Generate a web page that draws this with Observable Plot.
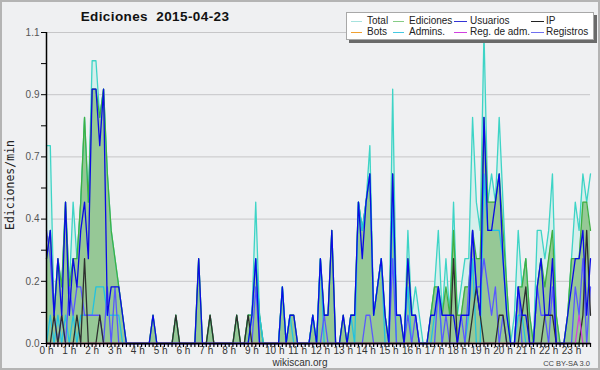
<!DOCTYPE html>
<html>
<head>
<meta charset="utf-8">
<script src="https://cdn.jsdelivr.net/npm/d3@7"></script>
<script src="https://cdn.jsdelivr.net/npm/@observablehq/plot@0.6"></script>
<style>
  html, body { margin: 0; padding: 0; background: #eff0f2; }
  #wrap { position: relative; width: 600px; height: 370px; background: #eff0f2; overflow: hidden; font-family: "Liberation Sans", Arial, sans-serif; }
  #wrap svg { position: absolute; left: 0; top: 0; }
  .abs { position: absolute; white-space: nowrap; }
  #frame { position: absolute; left: 0; top: 0; width: 596px; height: 366px; border: 2px solid #b4b4b4; pointer-events: none; }
  #title { left: 10px; width: 290px; top: 9px; text-align: center; font-weight: bold; font-size: 13.5px; color: #111; letter-spacing: 0.4px; }
  #legend { left: 346px; top: 12px; width: 246px; height: 26px; background: #fff; border: 1px solid #a8a8a8; box-shadow: 3px 3px 0 #6a6a6a; }
  .lt { position: absolute; font-size: 10px; color: #222; line-height: 11px; }
  .sw { position: absolute; height: 1px; }
  #ylab { left: -50px; top: 178px; width: 120px; text-align: center; transform: rotate(-90deg); font-family: "DejaVu Sans Mono", monospace; font-size: 11.5px; color: #222; }
  #foot { left: 250px; width: 100px; top: 357px; text-align: center; font-size: 10px; line-height: 11px; color: #333; }
  #cc { right: 10px; top: 359px; font-size: 7.5px; line-height: 9px; color: #444; }
</style>
</head>
<body>
<div id="wrap">
  <div id="chart"></div>
  <div id="title" class="abs">Ediciones&nbsp; 2015-04-23</div>
  <div id="legend" class="abs"></div>
  <div id="ylab" class="abs">Ediciones/min</div>
  <div id="foot" class="abs">wikiscan.org</div>
  <div id="cc" class="abs">CC BY-SA 3.0</div>
  <div id="frame"></div>
</div>
<script>
// Time of each sample: minutes from 00:00, one sample every 10 minutes
const minutes = d3.range(0, 1440, 10);

// Series values (edits per minute), 6 values per hour
const total = [
  0.7,0.7,0.1,0.3,0.2,0.5,  0.2,0.5,0.3,0.5,0.8,0.5,  1.0,1.0,0.8,0.9,0.6,0.4,  0.3,0.2,0.1,0,0,0,
  0,0,0,0,0.1,0,  0,0,0,0,0.1,0,  0,0,0,0,0.3,0,  0,0.1,0,0,0,0,
  0,0,0.1,0,0,0.1,  0.1,0.5,0.1,0,0,0,  0,0,0.2,0,0.1,0.1,  0,0,0,0,0.1,0,
  0.3,0.1,0.1,0.4,0,0,  0.1,0,0.1,0.1,0.5,0.4,  0.5,0.7,0.1,0.2,0.3,0.1,  0,0.9,0.1,0.1,0,0.4,
  0.1,0.2,0.1,0,0,0.1,  0.2,0.4,0.1,0.3,0.1,0.5,  0.1,0.2,0.3,0.3,0.8,0.5,  0.4,1.1,0.5,0.6,0.5,0.8,
  0.5,0.2,0,0.1,0.4,0.2,  0.3,0.1,0,0.4,0.4,0.3,  0.4,0.6,0.1,0,0,0.1,  0.3,0.5,0.4,0.6,0.5,0.6
];
const ediciones = [
  0.3,0.4,0.1,0.3,0.2,0.5,  0.2,0.3,0.3,0.5,0.8,0.5,  0.9,0.9,0.8,0.9,0.6,0.4,  0.3,0.2,0.1,0,0,0,
  0,0,0,0,0.1,0,  0,0,0,0,0.1,0,  0,0,0,0,0.3,0,  0,0.1,0,0,0,0,
  0,0,0.1,0,0,0.1,  0.1,0.3,0.1,0,0,0,  0,0,0.2,0,0.1,0.1,  0,0,0,0,0.1,0,
  0.3,0.1,0.1,0.4,0,0,  0.1,0,0.1,0.1,0.5,0.4,  0.5,0.6,0.1,0.2,0.3,0.1,  0,0.6,0.1,0.1,0,0.3,
  0.1,0.1,0,0,0,0.1,  0.2,0.2,0.1,0.2,0.1,0.4,  0.1,0.1,0.2,0.2,0.4,0.3,  0.3,0.8,0.5,0.5,0.5,0.6,
  0.4,0.2,0,0,0.2,0.2,  0.3,0.1,0,0.2,0.3,0.2,  0.3,0.4,0.1,0,0,0.1,  0.3,0.3,0.3,0.5,0.5,0.4
];
const usuarios = [
  0.3,0.4,0.1,0.3,0.1,0.5,  0.1,0.3,0.2,0.4,0.5,0.3,  0.9,0.9,0.7,0.9,0.1,0.2,  0.2,0.2,0.1,0,0,0,
  0,0,0,0,0.1,0,  0,0,0,0,0,0,  0,0,0,0,0.3,0,  0,0,0,0,0,0,
  0,0,0,0,0,0,  0.1,0.3,0,0,0,0,  0,0,0.2,0,0.1,0.1,  0,0,0,0,0.1,0,
  0.3,0.1,0.1,0.4,0,0,  0.1,0,0.1,0.1,0.5,0.3,  0.5,0.6,0.1,0.2,0.3,0.1,  0,0.6,0.1,0.1,0,0.3,
  0.1,0.1,0,0,0,0.1,  0.1,0.2,0.1,0.1,0.1,0.1,  0,0.1,0.1,0.1,0.4,0.2,  0.1,0.8,0.4,0.4,0.5,0.6,
  0.3,0.1,0,0,0.2,0.1,  0.1,0,0,0.2,0.3,0.1,  0.1,0.3,0,0,0,0.1,  0.2,0.3,0.3,0.4,0.1,0.3
];
const ip = [
  0,0,0.1,0,0.1,0,  0,0,0.1,0,0.3,0,  0,0,0.1,0,0,0,  0,0,0,0,0,0,
  0,0,0,0,0,0,  0,0,0,0,0.1,0,  0,0,0,0,0,0,  0,0.1,0,0,0,0,
  0,0,0.1,0,0,0.1,  0,0,0,0,0,0,  0,0,0,0,0,0,  0,0,0,0,0,0,
  0,0,0,0,0,0,  0,0,0,0,0,0,  0,0,0,0,0,0,  0,0,0,0,0,0,
  0,0,0,0,0,0,  0,0,0,0,0,0.3,  0,0,0,0,0.1,0.2,  0.1,0,0,0,0,0.1,
  0.1,0,0,0,0,0.1,  0.2,0,0,0,0,0.1,  0.1,0.1,0,0,0,0,  0,0,0,0.1,0.4,0.1
];
const bots = new Array(144).fill(0);
const admins = [
  0,0.1,0,0.1,0,0.1,  0,0.1,0,0.1,0.1,0.1,  0.1,0.2,0.2,0.2,0.1,0.1,  0.1,0.1,0,0,0,0,
  0,0,0,0,0,0,  0,0,0,0,0,0,  0,0,0,0,0,0,  0,0,0,0,0,0,
  0,0,0,0,0,0,  0.1,0.3,0.1,0,0,0,  0,0,0.2,0,0.1,0,  0,0,0,0,0.1,0,
  0.3,0,0,0,0,0,  0,0,0.1,0,0.5,0.4,  0.5,0.6,0.1,0.2,0.3,0,  0,0.5,0,0,0,0.2,
  0,0,0,0,0,0,  0.1,0.2,0,0,0,0,  0,0,0,0.1,0.3,0,  0,0.6,0.4,0.4,0.4,0.4,
  0.3,0.1,0,0,0.1,0.1,  0,0,0,0,0,0,  0,0,0,0,0,0,  0,0,0,0,0,0
];
const regAdm = [
  0,0,0,0,0,0,  0,0,0,0,0,0,  0,0,0,0,0,0,  0,0,0,0,0,0,
  0,0,0,0,0,0,  0,0,0,0,0,0,  0,0,0,0,0,0,  0,0,0,0,0,0,
  0,0,0,0,0,0,  0,0,0,0,0,0,  0,0,0,0,0,0,  0,0,0,0,0,0,
  0,0,0,0,0,0,  0,0,0,0,0,0,  0,0,0,0,0,0,  0,0,0,0,0,0,
  0,0,0,0,0,0,  0,0,0,0,0,0,  0,0,0,0,0,0,  0,0,0,0,0,0,
  0,0,0,0,0,0,  0,0,0,0,0,0,  0,0,0,0,0,0,  0,0,0.1,0,0,0
];
const registros = [
  0.4,0.3,0.1,0,0.1,0,  0.2,0.1,0.2,0.2,0.1,0.1,  0.1,0.1,0.1,0,0.2,0,  0.2,0,0,0,0,0,
  0,0,0,0,0,0,  0,0,0,0,0,0,  0,0,0,0,0,0,  0,0,0,0,0,0,
  0,0,0,0,0,0,  0,0.2,0,0,0,0,  0,0,0,0,0,0,  0,0,0,0,0,0,
  0,0.1,0,0,0,0,  0,0,0,0,0,0,  0.1,0.1,0,0,0,0,  0,0.3,0,0,0,0.1,
  0,0.1,0,0,0,0,  0,0.2,0,0.1,0,0,  0,0.1,0,0.2,0.4,0.2,  0.2,0.3,0.2,0.1,0.2,0,
  0.1,0,0,0,0.2,0,  0,0,0,0.2,0.1,0.1,  0,0.2,0,0,0,0,  0,0.2,0.1,0.3,0,0.2
];

// Tick values
const yMajor = [0, 0.22, 0.44, 0.66, 0.88, 1.1];
const yMinor = d3.range(0, 12).map(k => k * 0.11);
const xMinor = minutes;
const xHours = d3.range(0, 24).map(h => h * 60);

const seriesInfo = [
  {key: "total", label: "Total", values: total, stroke: "#3ed4c6", swatch: "#a6e2de"},
  {key: "ediciones", label: "Ediciones", values: ediciones, stroke: "#3fb043", swatch: "#86cc86"},
  {key: "usuarios", label: "Usuarios", values: usuarios, stroke: "#0a0ae6", swatch: "#3434d6"},
  {key: "ip", label: "IP", values: ip, stroke: "#2e2e2e", swatch: "#222222"},
  {key: "bots", label: "Bots", values: bots, stroke: "#f0a030", swatch: "#f0a030"},
  {key: "admins", label: "Admins.", values: admins, stroke: "#22c2e0", swatch: "#44c8e2"},
  {key: "regAdm", label: "Reg. de adm.", values: regAdm, stroke: "#d040e0", swatch: "#d040e0"},
  {key: "registros", label: "Registros", values: registros, stroke: "#5858ff", swatch: "#7070f0"}
];

const rows = minutes.map((t, i) => {
  const r = {t};
  for (const s of seriesInfo) r[s.key] = s.values[i];
  return r;
});

const lineOrder = ["bots", "total", "ediciones", "admins", "registros", "ip", "usuarios", "regAdm"];
const lineMarks = lineOrder.map(k => {
  const s = seriesInfo.find(d => d.key === k);
  return Plot.lineY(rows, {x: "t", y: k, stroke: s.stroke, strokeWidth: 1.3});
});

const chart = Plot.plot({
  width: 600,
  height: 370,
  marginLeft: 46,
  marginRight: 10,
  marginTop: 32,
  marginBottom: 27,
  style: {background: "transparent", fontFamily: "Liberation Sans, Arial, sans-serif", fontSize: "10px", color: "#333", overflow: "visible"},
  x: {domain: [0, 1430], axis: null},
  y: {domain: [0, 1.1], axis: null},
  marks: [
    Plot.gridY(yMajor, {stroke: "#c6c6c8", strokeOpacity: 1, strokeWidth: 1}),
    Plot.areaY(rows, {x: "t", y: "total", fill: "#d6efec"}),
    Plot.areaY(rows, {x: "t", y: "ediciones", fill: "#96c896"}),
    ...lineMarks,
    Plot.ruleY([0], {stroke: "#000", strokeWidth: 1.5}),
    Plot.ruleX([0], {stroke: "#000", strokeWidth: 1.5}),
    Plot.axisY({ticks: yMinor, tickSize: 5, tickFormat: () => "", stroke: "#000", label: null}),
    Plot.axisY({ticks: yMajor, tickSize: 0, tickPadding: 7, tickFormat: d3.format(".1f"), fill: "#555", fontSize: 10, label: null}),
    Plot.axisX({ticks: xMinor, tickSize: 4, tickFormat: () => "", stroke: "#000", strokeWidth: 1.2, label: null}),
    Plot.axisX({ticks: xHours, tickSize: 0, tickPadding: 3, tickFormat: d => (d / 60) + " h", fill: "#333", fontSize: 10, label: null})
  ]
});
document.getElementById("chart").appendChild(chart);

// Legend (two rows of four entries)
const legend = document.getElementById("legend");
const colText = [20, 62, 123, 199];
const colSw = [[4, 11], [46, 11], [107, 13], [184, 13]];
seriesInfo.forEach((s, i) => {
  const row = Math.floor(i / 4), col = i % 4;
  const y = 2 + row * 10.5;
  const sw = document.createElement("div");
  sw.className = "sw";
  sw.style.left = colSw[col][0] + "px";
  sw.style.width = colSw[col][1] + "px";
  sw.style.top = (y + 6) + "px";
  sw.style.background = s.swatch;
  legend.appendChild(sw);
  const tx = document.createElement("div");
  tx.className = "lt";
  tx.style.left = colText[col] + "px";
  tx.style.top = y + "px";
  tx.textContent = s.label;
  legend.appendChild(tx);
});
</script>
</body>
</html>
